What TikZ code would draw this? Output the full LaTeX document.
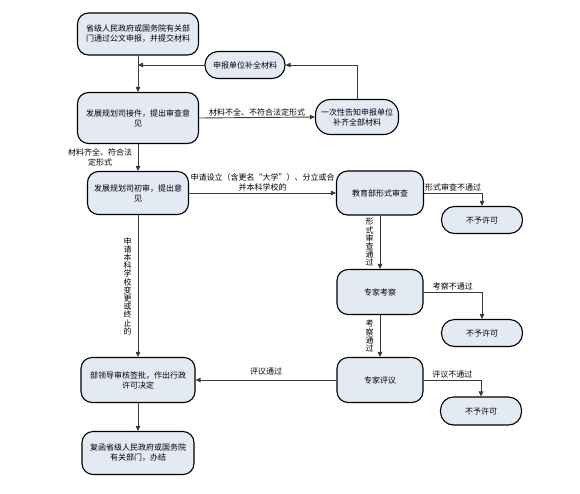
\documentclass[tikz,border=0pt]{standalone}
\usepackage{fontspec}
\newfontfamily\cjk{Noto Sans CJK SC}
\usepackage{tikz}
\usetikzlibrary{arrows.meta}
\definecolor{boxfill}{HTML}{E4EAF4}
\definecolor{linegray}{HTML}{3A3A3A}

\begin{document}
\begin{tikzpicture}[x=1pt, y=-1pt, font=\cjk\fontsize{8}{10}\selectfont,
  box/.style={draw=black, fill=boxfill, line width=1.1pt, rounded corners=11pt, align=center, inner sep=2pt},
  pill/.style={box, rounded corners=13pt},
  link/.style={draw=linegray, line width=0.9pt, -{Triangle[length=5pt,width=4.5pt]}},
  lbl/.style={inner sep=1pt, align=center},
  vlbl/.style={lbl, font=\cjk\fontsize{8}{8.2}\selectfont}]
\useasboundingbox (0,0) rectangle (580,493);
\node[box, minimum width=121pt, minimum height=42pt] (shenbao) at (138,34) {省级人民政府或国务院有关部\\门通过公文申报，并提交材料};
\node[pill, minimum width=80pt, minimum height=27pt] (buquan) at (245,65) {申报单位补全材料};
\node[box, minimum width=121pt, minimum height=51pt] (jiejian) at (138,118) {发展规划司接件，提出审查意\\见};
\node[box, rounded corners=15pt, minimum width=83pt, minimum height=35pt] (gaozhi) at (357,117) {一次性告知申报单位\\补齐全部材料};
\node[box, minimum width=101pt, minimum height=43pt] (chushen) at (138,193) {发展规划司初审，提出意\\见};
\node[box, minimum width=87pt, minimum height=44pt] (xingshi) at (380,193) {教育部形式审查};
\node[pill, minimum width=81pt, minimum height=27pt] (bu1) at (482,220) {不予许可};
\node[box, minimum width=86pt, minimum height=45pt] (kaocha) at (380,292) {专家考察};
\node[pill, minimum width=81pt, minimum height=27pt] (bu2) at (482,333) {不予许可};
\node[box, minimum width=114pt, minimum height=45pt] (jueding) at (138,380) {部领导审核签批，作出行政\\许可决定};
\node[box, minimum width=86pt, minimum height=45pt] (pingyi) at (380,380) {专家评议};
\node[pill, minimum width=81pt, minimum height=28pt] (bu3) at (481,411) {不予许可};
\node[box, minimum width=112pt, minimum height=43pt] (banjie) at (138,453) {复函省级人民政府或国务院\\有关部门，办结};
\coordinate (hui) at (138,65);
\draw[link] (shenbao.south) -- (jiejian.north);
\draw[link] (gaozhi.north) |- (buquan.east);
\draw[link] (buquan.west) -- (hui);
\draw[link] (jiejian.east) -- node[lbl, above] {材料不全、不符合法定形式} (gaozhi.west);
\draw[link] (jiejian.south) -- (chushen.north);
\node[lbl] (qiquan) at (100,157) {材料齐全、符合法\\定形式};
\draw[link] (chushen.east) -- node[lbl, above] {申请设立（含更名“大学”）、分立或合\\并本科学校的} (xingshi.west);
\draw[link] (xingshi.east) -| node[lbl, above, pos=0.25] {形式审查不通过} (bu1.north);
\draw[link] (xingshi.south) -- node[vlbl, left=5pt] {形\\式\\审\\查\\通\\过} (kaocha.north);
\draw[link] (kaocha.east) -| node[lbl, above, pos=0.25] {考察不通过} (bu2.north);
\draw[link] (kaocha.south) -- node[vlbl, left=5pt] {考\\察\\通\\过} (pingyi.north);
\draw[link] (pingyi.east) -| node[lbl, above, pos=0.25] {评议不通过} (bu3.north);
\draw[link] (pingyi.west) -- node[lbl, above=3pt] {评议通过} (jueding.east);
\draw[link] (chushen.south) -- node[vlbl, left=5pt] {申\\请\\本\\科\\学\\校\\变\\更\\或\\终\\止\\的} (jueding.north);
\draw[link] (jueding.south) -- (banjie.north);
\end{tikzpicture}
\end{document}
